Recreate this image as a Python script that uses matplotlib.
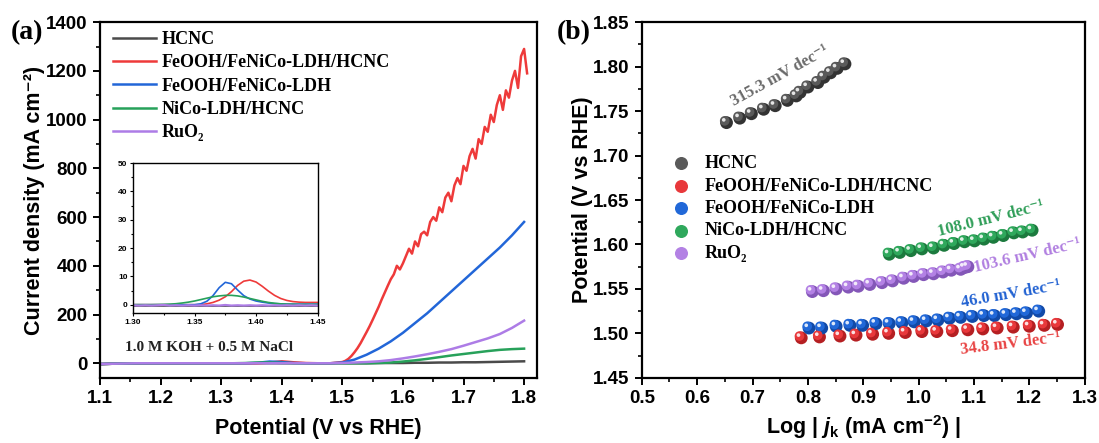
import numpy as np
import matplotlib.pyplot as plt
from matplotlib.ticker import MultipleLocator
from matplotlib import transforms

plt.rcParams['font.family'] = ['Liberation Sans', 'DejaVu Sans']
plt.rcParams['font.weight'] = 'bold'
plt.rcParams['axes.linewidth'] = 1.6
plt.rcParams['mathtext.fontset'] = 'custom'
plt.rcParams['mathtext.rm'] = 'Liberation Sans:bold'
plt.rcParams['mathtext.bf'] = 'Liberation Sans:bold'
plt.rcParams['mathtext.it'] = 'Liberation Sans:italic:bold'

SERIF = ['Liberation Serif', 'DejaVu Serif']

labels = ['HCNC', 'FeOOH/FeNiCo-LDH/HCNC', 'FeOOH/FeNiCo-LDH', 'NiCo-LDH/HCNC', 'RuO₂']
line_colors = ['#4a4a4a', '#ee3a3a', '#2266d8', '#27a15a', '#ad7ce6']

# ---- (a) LSV curves ----
# coarse grid 1.10 ... 1.80 step 0.02
v_coarse = np.round(np.arange(1.10, 1.8001, 0.02), 2)
j_hcnc = [-4, -2, -1, 0, 0, 0, 0, 0, 0, 0, 0, 0, 0, 0, 0, 0, 0, 0, 0, 0,
          0, 0, 0, 1, 1, 1, 2, 2, 3, 3, 4, 4, 5, 6, 7, 8]
j_fenico = [-3, -2, -1, 0, 0, 0, 0, 0, 0, 0, 0, 0, 0, 2, 7, 5, 1, 0, 0, 0,
            3, 15, 35, 60, 90, 125, 165, 205, 250, 295, 340, 385, 430, 475, 525, 580]
j_nico = [-3, -2, -1, 0, 0, 0, 0, 0, 0, 0, 0, 0, 1, 3, 3, 1, 0, 0, 0, 0,
          0, 0, 0, 1, 3, 7, 12, 18, 25, 32, 38, 44, 50, 55, 58, 60]
j_ruo2 = [-3, -2, -1, 0, 0, 0, 0, 0, 0, 0, 0, 0, 0, 0, 0, 0, 0, 0, 0, 0,
          1, 3, 5, 8, 13, 20, 28, 37, 47, 58, 72, 87, 102, 120, 145, 175]
# red curve: coarse part up to 1.48, fine (0.005) part from 1.50
j_red_lo = [-3, -2, -1, 0, 0, 0, 0, 0, 0, 0, 0, 0, 0, 0, 3, 8, 4, 1, 0, 0]
v_red_hi = np.round(np.arange(1.50, 1.8051, 0.005), 3)
j_red_hi = [5, 10, 18, 30, 45, 62, 82, 105, 128, 152, 178, 205, 232, 262, 290, 318,
            345, 365, 400, 385, 410, 440, 470, 450, 500, 480, 530, 540, 525, 580,
            600, 585, 640, 620, 680, 700, 665, 730, 760, 735, 810, 790, 850, 880,
            840, 920, 900, 970, 950, 1020, 990, 1060, 1100, 1040, 1120, 1090, 1160,
            1200, 1130, 1260, 1290, 1190]

# inset: 1.300 ... 1.450 step 0.005
v_inset = np.round(np.arange(1.30, 1.4501, 0.005), 3)
i_hcnc = [-0.3] * 31
i_red = [0, 0, 0, 0, 0, 0, 0, 0, 0, 0, 0, 0, 0.3, 0.8, 1.6, 2.8, 4.6, 6.8, 8.3, 8.7,
         8.0, 6.5, 4.8, 3.3, 2.2, 1.5, 1.1, 0.9, 0.8, 0.8, 0.8]
i_blue = [0, 0, 0, 0, 0, 0, 0, 0, 0, 0, 0, 0.3, 1.2, 3.2, 6.0, 7.9, 7.4, 5.2, 3.2, 2.0,
          1.3, 0.9, 0.6, 0.4, 0.3, 0.2, 0.2, 0.2, 0.2, 0.2, 0.2]
i_green = [0, 0, 0, 0, 0.05, 0.1, 0.2, 0.35, 0.6, 0.9, 1.3, 1.8, 2.3, 2.8, 3.1, 3.3,
           3.3, 3.1, 2.7, 2.2, 1.7, 1.2, 0.8, 0.5, 0.3, 0.2, 0.15, 0.1, 0.1, 0.1, 0.1]
i_ruo2 = [-0.2, -0.3, -0.2, -0.3, -0.2, -0.1, -0.3, -0.2, -0.3, -0.2, -0.3, -0.2,
          -0.3, -0.2, -0.3, -0.1, -0.3, -0.2, -0.3, -0.2, -0.3, -0.2, -0.3, -0.2,
          -0.3, -0.2, -0.3, -0.2, -0.3, -0.2, -0.3]

# ---- (b) Tafel ----
tx_hcnc = [0.653, 0.677, 0.698, 0.720, 0.741, 0.763, 0.779, 0.786, 0.800, 0.818, 0.829, 0.841, 0.853, 0.867]
ty_hcnc = [1.737, 1.742, 1.747, 1.752, 1.756, 1.762, 1.767, 1.771, 1.777, 1.782, 1.788, 1.793, 1.798, 1.803]
tx_red = [0.788, 0.821, 0.858, 0.887, 0.917, 0.946, 0.976, 1.006, 1.033, 1.061, 1.089, 1.116, 1.142, 1.171, 1.200, 1.227, 1.251]
ty_red = [1.495, 1.496, 1.497, 1.498, 1.499, 1.500, 1.501, 1.502, 1.502, 1.503, 1.504, 1.505, 1.506, 1.507, 1.508, 1.509, 1.510]
tx_blue = [0.802, 0.825, 0.851, 0.876, 0.899, 0.923, 0.947, 0.970, 0.992, 1.014, 1.035, 1.056, 1.076, 1.097, 1.118, 1.137, 1.158, 1.177, 1.195, 1.217]
ty_blue = [1.506, 1.506, 1.508, 1.509, 1.509, 1.511, 1.511, 1.512, 1.513, 1.514, 1.515, 1.517, 1.518, 1.519, 1.520, 1.520, 1.521, 1.522, 1.523, 1.525]
tx_green = [0.947, 0.966, 0.986, 1.006, 1.027, 1.046, 1.064, 1.083, 1.101, 1.118, 1.135, 1.153, 1.172, 1.188, 1.205]
ty_green = [1.589, 1.591, 1.593, 1.595, 1.596, 1.599, 1.601, 1.603, 1.604, 1.606, 1.608, 1.610, 1.613, 1.614, 1.616]
tx_ruo2 = [0.808, 0.828, 0.851, 0.873, 0.891, 0.912, 0.934, 0.953, 0.973, 0.991, 1.009, 1.027, 1.044, 1.059, 1.076, 1.083, 1.089]
ty_ruo2 = [1.547, 1.548, 1.550, 1.552, 1.553, 1.555, 1.557, 1.559, 1.562, 1.564, 1.566, 1.567, 1.569, 1.571, 1.572, 1.574, 1.575]
slopes = ['315.3', '34.8', '46.0', '108.0', '103.6']

dot_colors = ['#5a5a5a', '#e8383b', '#2168d8', '#2fa85c', '#b381e4']
dot_dark = ['#333333', '#b51f22', '#114aa8', '#1c7a3e', '#8457b8']
text_colors = ['#6a6a6a', '#e84444', '#2262d2', '#2f9e58', '#b07ee0']

fig = plt.figure(figsize=(10.99, 4.43), dpi=100)
ax1 = fig.add_axes([0.091, 0.147, 0.398, 0.803])
ax2 = fig.add_axes([0.584, 0.147, 0.403, 0.803])

# panel a
v_red = np.concatenate([v_coarse[:20], v_red_hi])
j_red = j_red_lo + j_red_hi
ax1.plot(v_coarse, j_hcnc, color=line_colors[0], lw=1.8, label=labels[0])
ax1.plot(v_red, j_red, color=line_colors[1], lw=1.8, label=labels[1])
ax1.plot(v_coarse, j_fenico, color=line_colors[2], lw=1.8, label=labels[2])
ax1.plot(v_coarse, j_nico, color=line_colors[3], lw=1.8, label=labels[3])
ax1.plot(v_coarse, j_ruo2, color=line_colors[4], lw=1.8, label=labels[4])
ax1.set_xlim(1.1, 1.822)
ax1.set_ylim(-60, 1400)
ax1.xaxis.set_major_locator(MultipleLocator(0.1))
ax1.xaxis.set_minor_locator(MultipleLocator(0.05))
ax1.yaxis.set_major_locator(MultipleLocator(200))
ax1.yaxis.set_minor_locator(MultipleLocator(100))
ax1.set_xlabel('Potential (V vs RHE)', fontsize=15.5, fontweight='bold')
ax1.set_ylabel('Current density (mA cm⁻²)', fontsize=15.5, fontweight='bold')
ax1.xaxis.set_label_coords(0.5, -0.112)
ax1.yaxis.set_label_coords(-0.149, 0.5)
ax1.yaxis.label.set_va('center')
leg1 = ax1.legend(loc='upper left', bbox_to_anchor=(0.03, 0.975), frameon=False, handlelength=2.4,
                  handletextpad=0.3, labelspacing=0.35, borderpad=0, borderaxespad=0,
                  prop={'family': SERIF, 'weight': 'bold', 'size': 13})
ax1.text(0.057, 0.084, '1.0 M KOH + 0.5 M NaCl', transform=ax1.transAxes, fontsize=11,
         family=SERIF, fontweight='bold', color='#222222', va='center')
fig.text(0.010, 0.912, '(a)', fontsize=20, family=SERIF, fontweight='bold')

# inset
axi = fig.add_axes([0.121, 0.293, 0.168, 0.339])
axi.plot(v_inset, i_hcnc, color=line_colors[0], lw=1.2)
axi.plot(v_inset, i_red, color=line_colors[1], lw=1.2)
axi.plot(v_inset, i_blue, color=line_colors[2], lw=1.2)
axi.plot(v_inset, i_green, color=line_colors[3], lw=1.2)
axi.plot(v_inset, i_ruo2, color=line_colors[4], lw=1.6)
axi.set_xlim(1.30, 1.45)
axi.set_ylim(-3, 50)
axi.yaxis.set_major_locator(MultipleLocator(10))
axi.yaxis.set_minor_locator(MultipleLocator(5))
axi.xaxis.set_minor_locator(MultipleLocator(0.025))
axi.set_xticks([1.30, 1.35, 1.40, 1.45])
axi.set_xticklabels(['1.30', '1.35', '1.40', '1.45'])
for s in axi.spines.values():
    s.set_linewidth(1.0)
axi.tick_params(which='both', direction='out', labelsize=6, width=0.8, length=2.5, pad=1.5)
axi.tick_params(which='minor', length=1.5)

# panel b
off = transforms.offset_copy(ax2.transData, fig=fig, x=-1.3, y=1.3, units='points')
off2 = transforms.offset_copy(ax2.transData, fig=fig, x=-2.0, y=2.0, units='points')
tafel = [(tx_hcnc, ty_hcnc), (tx_red, ty_red), (tx_blue, ty_blue), (tx_green, ty_green), (tx_ruo2, ty_ruo2)]
for k in range(5):
    xs, ys = tafel[k]
    ax2.scatter(xs, ys, s=85, color=dot_dark[k], edgecolors='none', label=labels[k], zorder=3)
    ax2.scatter(xs, ys, s=48, color=dot_colors[k], edgecolors='none', transform=off, zorder=4)
    ax2.scatter(xs, ys, s=7, color='white', alpha=0.85, edgecolors='none', transform=off2, zorder=5)

ann = [(0.749, 1.789, 29), (1.166, 1.488, 7), (1.166, 1.544, 10), (1.131, 1.629, 14), (1.196, 1.587, 13)]
for k in range(5):
    x, y, r = ann[k]
    ax2.text(x, y, slopes[k] + ' mV dec⁻¹', color=text_colors[k], fontsize=12,
             family=SERIF, fontweight='bold', rotation=r, ha='center', va='center',
             rotation_mode='anchor')

ax2.set_xlim(0.5, 1.3)
ax2.set_ylim(1.45, 1.85)
ax2.xaxis.set_major_locator(MultipleLocator(0.1))
ax2.xaxis.set_minor_locator(MultipleLocator(0.05))
ax2.yaxis.set_major_locator(MultipleLocator(0.05))
ax2.yaxis.set_minor_locator(MultipleLocator(0.025))
ax2.xaxis.set_major_formatter(plt.FormatStrFormatter('%.1f'))
ax2.yaxis.set_major_formatter(plt.FormatStrFormatter('%.2f'))
ax2.set_xlabel('Log | $\\mathit{j}_\\mathrm{k}$ (mA cm$^{\\mathbf{-2}}$) |', fontsize=15.5, fontweight='bold')
ax2.set_ylabel('Potential (V vs RHE)', fontsize=15.5, fontweight='bold')
ax2.xaxis.set_label_coords(0.5, -0.1)
ax2.yaxis.set_label_coords(-0.133, 0.5)
ax2.yaxis.label.set_va('center')
leg2 = ax2.legend(loc='upper left', bbox_to_anchor=(0.068, 0.626), frameon=False, handlelength=1.0,
                  handletextpad=0.8, labelspacing=0.3, borderpad=0, borderaxespad=0, scatterpoints=1,
                  prop={'family': SERIF, 'weight': 'bold', 'size': 13})
for h, c in zip(leg2.legend_handles, dot_colors):
    h.set_color(c)
    h.set_sizes([70])
fig.text(0.507, 0.912, '(b)', fontsize=20, family=SERIF, fontweight='bold')

for ax in (ax1, ax2):
    ax.tick_params(which='both', direction='out', labelsize=13.5, width=1.4, length=5, pad=4)
    ax.tick_params(which='minor', length=3, width=1.2)

fig.savefig('out.png', dpi=100)
